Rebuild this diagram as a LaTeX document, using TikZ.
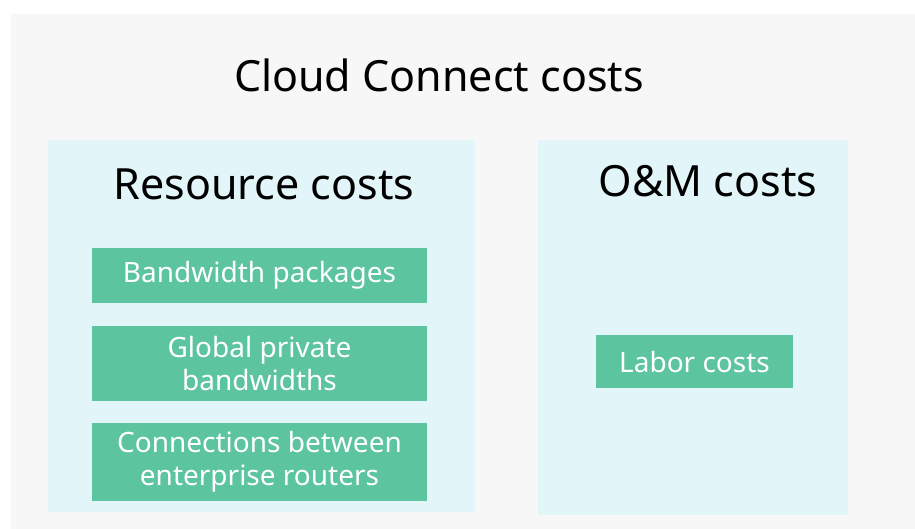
\documentclass[tikz,border=0pt]{standalone}
\usepackage{fontspec}
\setmainfont{Noto Sans}
\usepackage{xcolor}
\usepackage{tikz}
\usetikzlibrary{
  positioning
}

\definecolor{bggray}{HTML}{F7F7F7}
\definecolor{panelblue}{HTML}{E2F5F9}
\definecolor{itemgreen}{HTML}{5CC5A0}

\tikzset{
  panel/.style={fill=panelblue, inner sep=0pt},
  item/.style={fill=itemgreen, text=white, align=center, inner sep=0pt,
    minimum width=335pt, font=\fontsize{28}{33}\selectfont},
  heading/.style={anchor=base, font=\fontsize{43}{50}\selectfont}
}

\begin{document}
\begin{tikzpicture}[x=1pt, y=-1pt]
  \useasboundingbox (0,0) rectangle (915,529);
  \fill [bggray] (11,14) rectangle (915,529);
  \node [panel, minimum width=427pt, minimum height=372pt] (resource) at (261.5,326) {};
  \node [panel, minimum width=310pt, minimum height=375pt] (om) at (693,327.5) {};
  \node [heading] (title) at (439,92) {Cloud Connect costs};
  \node [heading] (restitle) at (264,200) {Resource costs};
  \node [heading] (omtitle) at (708,197) {O\&M costs};
  \node [item, minimum height=55pt] (bandwidth) at (259.5,275.5) {Bandwidth packages};
  \node [item, minimum height=75pt, below=23pt of bandwidth] (global) {Global private\\bandwidths};
  \node [item, minimum height=78pt, below=21pt of global] (connections) {Connections between\\enterprise routers};
  \node [item, minimum width=197pt, minimum height=53pt] (labor) at (694.5,361.5) {Labor costs};
\end{tikzpicture}
\end{document}
